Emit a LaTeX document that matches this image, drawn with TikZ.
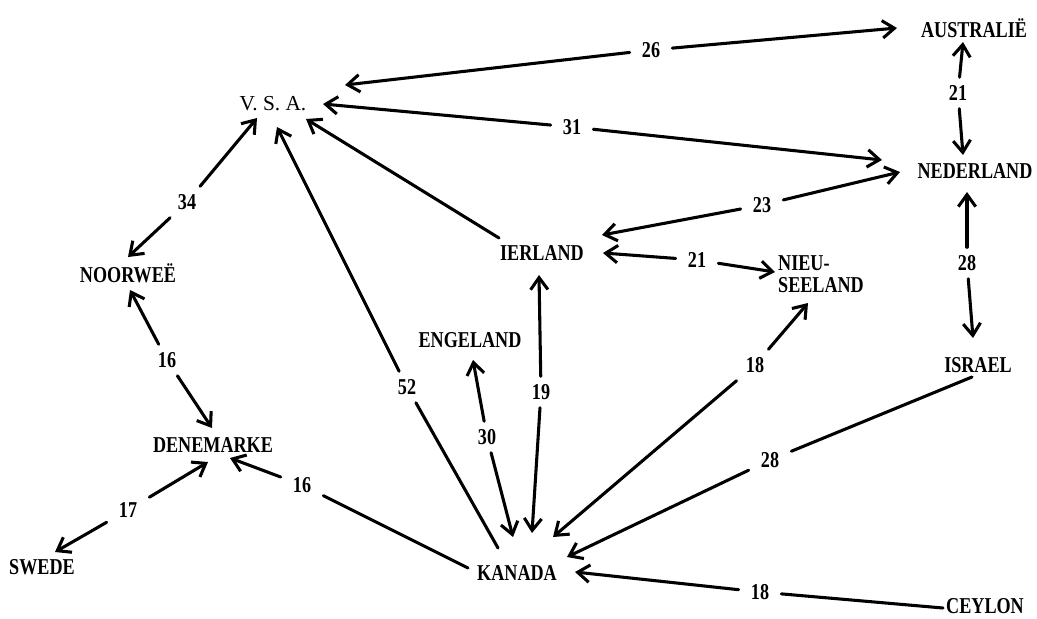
\documentclass[tikz,border=0pt]{standalone}
\usepackage{fontspec}
\setmainfont{Liberation Serif}[FakeStretch=0.8]
\newfontfamily\vsafont{Liberation Serif}
\usetikzlibrary{arrows.meta,calc}
\begin{document}
\begin{tikzpicture}[x=0.75pt,y=-0.75pt,
  >={Straight Barb[length=9pt,width=13pt]},
  place/.style={font=\fontsize{17}{17}\selectfont\bfseries, inner sep=4pt, text height=11.2pt, text depth=0pt},
  lbl/.style={font=\fontsize{17}{17}\selectfont\bfseries, inner xsep=9pt, inner ysep=6pt, text height=11.2pt, text depth=0pt},
  conn/.style={line width=2.3pt, line cap=round}]
\fill[white] (0,0) rectangle (1037,618);
\useasboundingbox (0,0) rectangle (1037,618);
% places
\node[place, font=\fontsize{16}{16}\selectfont\vsafont] (vsa) at (273,103) {V. S. A.};
\node[place] (aus) at (974,30) {AUSTRALIË};
\node[place] (ned) at (975,171) {NEDERLAND};
\node[place] (ier) at (542,253) {IERLAND};
\node[place, text height=, align=left, font=\fontsize{17}{16.5}\selectfont\bfseries] (nz) at (821,274) {NIEU-\\SEELAND};
\node[place] (noo) at (128,275) {NOORWEË};
\node[place] (den) at (213,445) {DENEMARKE};
\node[place] (swe) at (42,567) {SWEDE};
\node[place] (kan) at (517,573) {KANADA};
\node[place] (eng) at (470,340) {ENGELAND};
\node[place] (isr) at (978,365) {ISRAEL};
\node[place] (cey) at (985,606) {CEYLON};
% labels
\node[lbl] (l26) at (651,50) {26};
\node[lbl] (l31) at (572,127) {31};
\node[lbl] (l21a) at (958,93) {21};
\node[lbl] (l23) at (762,205) {23};
\node[lbl] (l21b) at (697,260) {21};
\node[lbl] (l34) at (187,202) {34};
\node[lbl] (l28a) at (967,263) {28};
\node[lbl] (l16a) at (167,360) {16};
\node[lbl] (l52) at (407,387) {52};
\node[lbl] (l19) at (541,392) {19};
\node[lbl] (l30) at (487,437) {30};
\node[lbl] (l18a) at (755,365) {18};
\node[lbl] (l16b) at (302,485) {16};
\node[lbl] (l17) at (128,510) {17};
\node[lbl] (l28b) at (770,460) {28};
\node[lbl] (l18b) at (760,592) {18};
% connectors
\draw[conn,<-] ($(vsa)+(72,-18)$) -- (l26);
\draw[conn,->] (l26) -- ($(aus)+(-77,-2)$);
\draw[conn,<-] ($(vsa)+(50,1)$) -- (l31);
\draw[conn,->] (l31) -- ($(ned)+(-93,-11)$);
\draw[conn,<-] ($(aus)+(-11,12)$) -- (l21a);
\draw[conn,->] (l21a) -- ($(ned)+(-12,-16)$);
\draw[conn,<-] ($(ier)+(60,-18)$) -- (l23);
\draw[conn,->] (l23) -- ($(ned)+(-75,1)$);
\draw[conn,<-] ($(ier)+(61,0)$) -- (l21b);
\draw[conn,->] (l21b) -- ($(nz)+(-46,-2)$);
\draw[conn,<-] ($(vsa)+(-16,15)$) -- (l34);
\draw[conn,->] (l34) -- ($(noo)+(0,-18)$);
\draw[conn,<-] ($(ned)+(-8,21)$) -- (l28a);
\draw[conn,->] (l28a) -- ($(isr)+(-5,-27)$);
\draw[conn,<-] ($(noo)+(2,15)$) -- (l16a);
\draw[conn,->] (l16a) -- ($(den)+(-1,-17)$);
\draw[conn] ($(kan)+(-19,-25)$) -- (l52);
\draw[conn,->] (l52) -- ($(vsa)+(4,24)$);
\draw[conn,->] ($(ier)+(-43,-15)$) -- ($(vsa)+(33,16)$);
\draw[conn,<-] ($(ier)+(-3,22)$) -- (l19);
\draw[conn,->] (l19) -- ($(kan)+(15,-40)$);
\draw[conn,<-] ($(eng)+(3,20)$) -- (l30);
\draw[conn,->] (l30) -- ($(kan)+(-4,-36)$);
\draw[conn,<-] ($(nz)+(-13,29)$) -- (l18a);
\draw[conn,->] (l18a) -- ($(kan)+(36,-36)$);
\draw[conn,<-] ($(den)+(17,13)$) -- (l16b);
\draw[conn] (l16b) -- ($(kan)+(-49,-5)$);
\draw[conn,<-] ($(den)+(-5,17)$) -- (l17);
\draw[conn,->] (l17) -- ($(swe)+(13,-15)$);
\draw[conn] ($(isr)+(-6,12)$) -- (l28b);
\draw[conn,->] (l28b) -- ($(kan)+(50,-16)$);
\draw[conn] ($(cey)+(-42,2)$) -- (l18b);
\draw[conn,->] (l18b) -- ($(kan)+(58,-1)$);
\end{tikzpicture}
\end{document}
